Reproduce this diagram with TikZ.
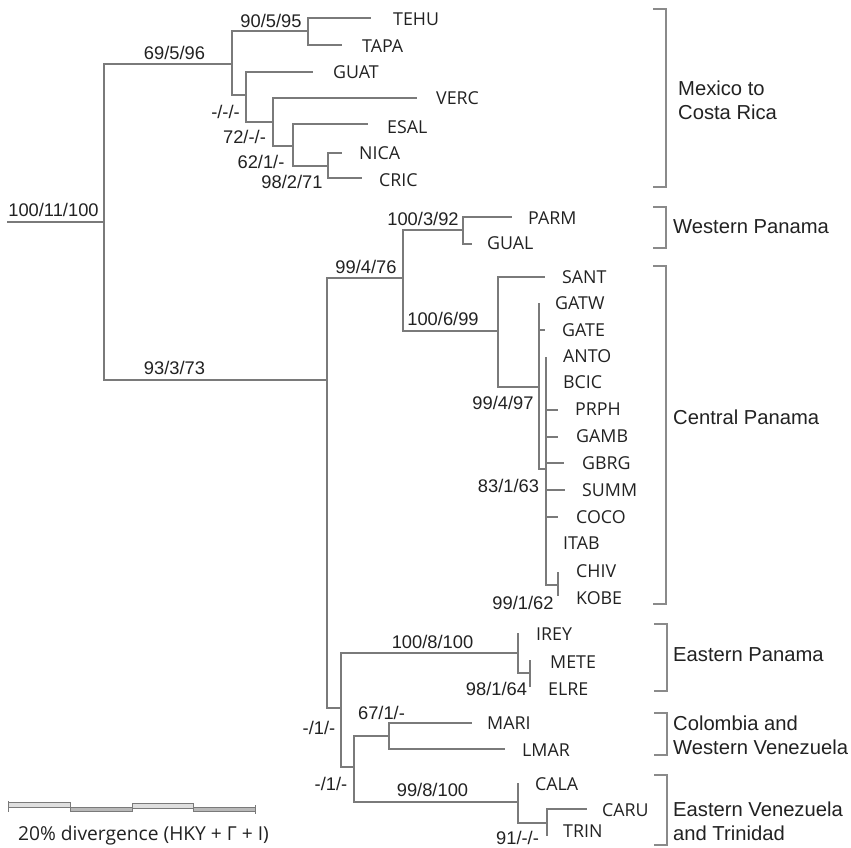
\documentclass[tikz,border=0pt]{standalone}
\usepackage{fontspec}
\setmainfont{Liberation Sans}
\newfontfamily\taxfont{Open Sans}
\definecolor{treegray}{HTML}{7A7A7A}
\definecolor{brgray}{HTML}{8A8A8A}
\definecolor{txt}{HTML}{222222}
\begin{document}
\begin{tikzpicture}[x=1pt,y=-1pt,
  br/.style={draw=treegray, line width=1.1pt},
  tax/.style={font=\taxfont\fontsize{17.8}{20}\selectfont, anchor=west, inner sep=0pt, text height=12.7pt, text depth=0pt, text=txt},
  sup/.style={font=\fontsize{18.3}{20}\selectfont, anchor=center, inner sep=0pt, text height=13.1pt, text depth=0pt, text=txt},
  reg/.style={font=\fontsize{20.2}{24}\selectfont, anchor=west, inner sep=0pt, align=left, text=txt},
  brk/.style={draw=brgray, line width=2pt},
  sbar/.style={draw=treegray, line width=0.8pt},
]
\useasboundingbox (0,0) rectangle (851,847);
\fill[white] (0,0) rectangle (851,847);

% ---------- internal nodes (attach points) ----------
\coordinate (S0) at (7,222);
\coordinate (R)  at (104,222);
\coordinate (A)  at (232,64);
\coordinate (A1) at (308,31);
\coordinate (A2) at (246,95);
\coordinate (A3) at (273,122);
\coordinate (A4) at (293,146);
\coordinate (A5) at (328,166);
\coordinate (B)  at (327,380);
\coordinate (B1) at (403,278);
\coordinate (B2) at (463,230);
\coordinate (B3) at (498,331);
\coordinate (B4) at (539,387);
\coordinate (B5) at (546,469);
\coordinate (B6) at (558,585);
\coordinate (C)  at (341,708);
\coordinate (C1) at (518,653);
\coordinate (C2) at (530,673);
\coordinate (C3) at (354,767);
\coordinate (C4) at (389,736);
\coordinate (C5) at (518,802);
\coordinate (C6) at (547,823);

% ---------- tips ----------
\coordinate (tTEHU) at (371,18);
\coordinate (tTAPA) at (342,45);
\coordinate (tGUAT) at (313,72);
\coordinate (tVERC) at (417,98);
\coordinate (tESAL) at (368,124);
\coordinate (tNICA) at (342,153);
\coordinate (tCRIC) at (362,178);
\coordinate (tPARM) at (512,217);
\coordinate (tGUAL) at (472,244);
\coordinate (tSANT) at (545,277);
\coordinate (tGATW) at (539,303);
\coordinate (tGATE) at (545,330);
\coordinate (tANTO) at (546,357);
\coordinate (tBCIC) at (546,382);
\coordinate (tPRPH) at (558,410);
\coordinate (tGAMB) at (558,437);
\coordinate (tGBRG) at (564,463);
\coordinate (tSUMM) at (565,490);
\coordinate (tCOCO) at (558,517);
\coordinate (tITAB) at (546,543);
\coordinate (tCHIV) at (558,572);
\coordinate (tKOBE) at (558,596);
\coordinate (tIREY) at (518,633);
\coordinate (tMETE) at (530,660);
\coordinate (tELRE) at (530,687);
\coordinate (tMARI) at (472,723);
\coordinate (tLMAR) at (505,749);
\coordinate (tCALA) at (518,783);
\coordinate (tCARU) at (587,809);
\coordinate (tTRIN) at (547,836);

% ---------- branches ----------
\draw[br] (S0) -- (R);
\draw[br] (R) |- (A);   \draw[br] (R) |- (B);
\draw[br] (A) |- (A1);  \draw[br] (A) |- (A2);
\draw[br] (A1) |- (tTEHU); \draw[br] (A1) |- (tTAPA);
\draw[br] (A2) |- (tGUAT); \draw[br] (A2) |- (A3);
\draw[br] (A3) |- (tVERC); \draw[br] (A3) |- (A4);
\draw[br] (A4) |- (tESAL); \draw[br] (A4) |- (A5);
\draw[br] (A5) |- (tNICA); \draw[br] (A5) |- (tCRIC);
\draw[br] (B) |- (B1);  \draw[br] (B) |- (C);
\draw[br] (B1) |- (B2); \draw[br] (B1) |- (B3);
\draw[br] (B2) |- (tPARM); \draw[br] (B2) |- (tGUAL);
\draw[br] (B3) |- (tSANT); \draw[br] (B3) |- (B4);
\draw[br] (B4) |- (tGATW); \draw[br] (B4) |- (tGATE); \draw[br] (B4) |- (B5);
\draw[br] (B5) |- (tANTO); \draw[br] (B5) |- (tPRPH); \draw[br] (B5) |- (tGAMB);
\draw[br] (B5) |- (tGBRG); \draw[br] (B5) |- (tSUMM); \draw[br] (B5) |- (tCOCO);
\draw[br] (B5) |- (B6);
\draw[br] (B6) |- (tCHIV); \draw[br] (B6) |- (tKOBE);
\draw[br] (C) |- (C1);  \draw[br] (C) |- (C3);
\draw[br] (C1) |- (tIREY); \draw[br] (C1) |- (C2);
\draw[br] (C2) |- (tMETE); \draw[br] (C2) |- (tELRE);
\draw[br] (C3) |- (C4); \draw[br] (C3) |- (C5);
\draw[br] (C4) |- (tMARI); \draw[br] (C4) |- (tLMAR);
\draw[br] (C5) |- (tCALA); \draw[br] (C5) |- (C6);
\draw[br] (C6) |- (tCARU); \draw[br] (C6) |- (tTRIN);

% ---------- taxon labels ----------
\node[tax] (lTEHU) at (393,19) {TEHU};
\node[tax] (lTAPA) at (362,46) {TAPA};
\node[tax] (lGUAT) at (333,72) {GUAT};
\node[tax] (lVERC) at (436,98) {VERC};
\node[tax] (lESAL) at (387,127) {ESAL};
\node[tax] (lNICA) at (359,153) {NICA};
\node[tax] (lCRIC) at (379,180) {CRIC};
\node[tax] (lPARM) at (528,218) {PARM};
\node[tax] (lGUAL) at (487,243) {GUAL};
\node[tax] (lSANT) at (562,277) {SANT};
\node[tax] (lGATW) at (555,303) {GATW};
\node[tax] (lGATE) at (562,330) {GATE};
\node[tax] (lANTO) at (563,356) {ANTO};
\node[tax] (lBCIC) at (563,382) {BCIC};
\node[tax] (lPRPH) at (575,409) {PRPH};
\node[tax] (lGAMB) at (576,436) {GAMB};
\node[tax] (lGBRG) at (582,463) {GBRG};
\node[tax] (lSUMM) at (582,490) {SUMM};
\node[tax] (lCOCO) at (576,517) {COCO};
\node[tax] (lITAB) at (563,543) {ITAB};
\node[tax] (lCHIV) at (576,571) {CHIV};
\node[tax] (lKOBE) at (576,598) {KOBE};
\node[tax] (lIREY) at (536,634) {IREY};
\node[tax] (lMETE) at (550,662) {METE};
\node[tax] (lELRE) at (548,689) {ELRE};
\node[tax] (lMARI) at (487,723) {MARI};
\node[tax] (lLMAR) at (522,750) {LMAR};
\node[tax] (lCALA) at (535,784) {CALA};
\node[tax] (lCARU) at (602,810) {CARU};
\node[tax] (lTRIN) at (563,831) {TRIN};

% ---------- support values ----------
\node[sup] (s1)  at (53.5,210) {100/11/100};
\node[sup] (s2)  at (174.5,53) {69/5/96};
\node[sup] (s3)  at (271,21) {90/5/95};
\node[sup] (s4)  at (225.5,112) {-/-/-};
\node[sup] (s5)  at (244.5,137) {72/-/-};
\node[sup] (s6)  at (261,162) {62/1/-};
\node[sup] (s7)  at (292,182) {98/2/71};
\node[sup] (s8)  at (174.5,368) {93/3/73};
\node[sup] (s9)  at (366,267) {99/4/76};
\node[sup] (s10) at (423,219) {100/3/92};
\node[sup] (s11) at (443,319) {100/6/99};
\node[sup] (s12) at (503,403) {99/4/97};
\node[sup] (s13) at (508.5,486) {83/1/63};
\node[sup] (s14) at (523,603) {99/1/62};
\node[sup] (s15) at (432.5,642) {100/8/100};
\node[sup] (s16) at (496.5,689) {98/1/64};
\node[sup] (s17) at (319,728) {-/1/-};
\node[sup] (s18) at (381.5,713) {67/1/-};
\node[sup] (s19) at (331,784) {-/1/-};
\node[sup] (s20) at (432.5,790) {99/8/100};
\node[sup] (s21) at (517.5,838) {91/-/-};

% ---------- brackets ----------
\draw[brk] (653,9) -- (666,9) -- (666,187) -- (653,187);
\draw[brk] (653,207) -- (666,207) -- (666,248) -- (653,248);
\draw[brk] (653,266) -- (666,266) -- (666,604) -- (653,604);
\draw[brk] (654,624) -- (667,624) -- (667,691) -- (654,691);
\draw[brk] (654,713) -- (667,713) -- (667,755) -- (654,755);
\draw[brk] (654,775) -- (667,775) -- (667,845) -- (654,845);

\node[reg] (r1) at (678,100) {Mexico to\\Costa Rica};
\node[reg] (r2) at (673,227) {Western Panama};
\node[reg] (r3) at (673,417) {Central Panama};
\node[reg] (r4) at (673,655) {Eastern Panama};
\node[reg] (r5) at (673,735) {Colombia and\\Western Venezuela};
\node[reg] (r6) at (673,821) {Eastern Venezuela\\and Trinidad};

% ---------- scale bar ----------
\filldraw[sbar, fill=gray!25] (8,802) rectangle (70,807);
\filldraw[sbar, fill=gray!55] (70,807) rectangle (132,811);
\filldraw[sbar, fill=gray!25] (132,803) rectangle (193,808);
\filldraw[sbar, fill=gray!55] (193,807) rectangle (255,811);
\draw[sbar] (8,801) -- (8,812);
\draw[sbar] (255,805) -- (255,814);
\node[font=\taxfont\fontsize{19.2}{22}\selectfont, anchor=west, inner sep=0pt, text=txt] (scl) at (18,835) {20\% divergence (HKY + Γ + I)};
\end{tikzpicture}
\end{document}
